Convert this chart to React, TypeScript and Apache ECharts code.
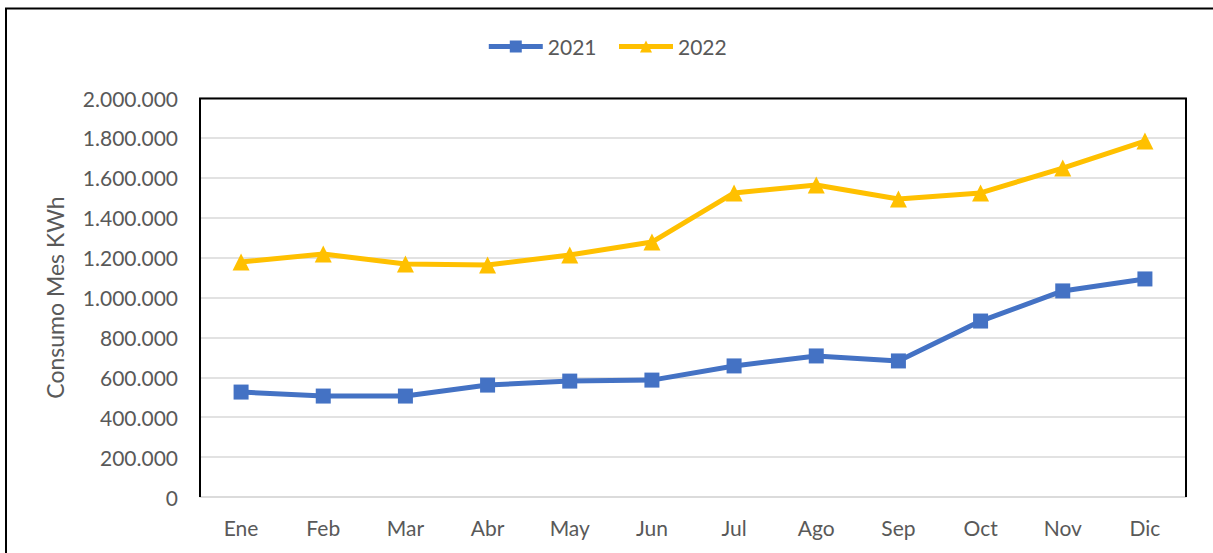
import React, { useEffect, useRef } from "react";
import * as echarts from "echarts";

const months = ["Ene", "Feb", "Mar", "Abr", "May", "Jun", "Jul", "Ago", "Sep", "Oct", "Nov", "Dic"];
const values2021 = [526000, 506000, 506000, 561000, 581000, 586000, 657000, 707000, 682000, 882000, 1033000, 1093000];
const values2022 = [1178000, 1218000, 1168000, 1163000, 1213000, 1278000, 1524000, 1564000, 1494000, 1524000, 1649000, 1784000];
const yTitle = "Consumo Mes KWh";

const fmt = (v: number) => String(Math.round(v)).replace(/\B(?=(\d{3})+(?!\d))/g, ".");

export default function App() {
  const ref = useRef<HTMLDivElement>(null);
  useEffect(() => {
    if (!ref.current) return;
    const chart = echarts.init(ref.current, undefined, { renderer: "svg" });
    const font = "Lato, 'Open Sans', sans-serif";
    chart.setOption({
      animation: false,
      backgroundColor: "#ffffff",
      textStyle: { fontFamily: font },
      legend: {
        top: 31,
        left: "center",
        itemWidth: 54,
        itemHeight: 15,
        itemGap: 20,
        lineStyle: { width: 5 },
        textStyle: { color: "#595959", fontSize: 21, fontFamily: font },
        data: ["2021", "2022"],
      },
      grid: { left: 200, right: 27, top: 98, bottom: 56, containLabel: false },
      xAxis: {
        type: "category",
        data: months,
        boundaryGap: true,
        axisLine: { lineStyle: { color: "#d9d9d9", width: 1.5 } },
        axisTick: { show: false },
        axisLabel: { color: "#595959", fontSize: 21, margin: 20, fontFamily: font },
      },
      yAxis: {
        type: "value",
        min: 0,
        max: 2000000,
        interval: 200000,
        name: yTitle,
        nameLocation: "middle",
        nameGap: 134,
        nameTextStyle: { color: "#595959", fontSize: 23, fontFamily: font },
        axisLine: { show: false },
        axisTick: { show: false },
        splitLine: { lineStyle: { color: "#d9d9d9", width: 1.5 } },
        axisLabel: { color: "#595959", fontSize: 21, margin: 22, formatter: (v: number) => fmt(v), fontFamily: font },
      },
      graphic: [
        {
          type: "rect",
          shape: { x: 6, y: 8.5, width: 1230, height: 580 },
          style: { fill: "none", stroke: "#000000", lineWidth: 2 },
          silent: true,
          z: 100,
        },
        {
          type: "polyline",
          shape: { points: [[200, 497], [200, 98.5], [1186, 98.5], [1186, 497]] },
          style: { fill: "none", stroke: "#000000", lineWidth: 2 },
          silent: true,
          z: 1,
        },
      ],
      series: [
        {
          name: "2021",
          type: "line",
          data: values2021,
          symbol: "rect",
          symbolSize: 15,
          lineStyle: { color: "#4472C4", width: 5 },
          itemStyle: { color: "#4472C4" },
          z: 3,
        },
        {
          name: "2022",
          type: "line",
          data: values2022,
          symbol: "triangle",
          symbolSize: 17,
          lineStyle: { color: "#FFC000", width: 5 },
          itemStyle: { color: "#FFC000" },
          z: 3,
        },
      ],
    });
    return () => chart.dispose();
  }, []);
  return <div ref={ref} style={{ position: "fixed", left: 0, top: 0, width: 1213, height: 553 }} />;
}
